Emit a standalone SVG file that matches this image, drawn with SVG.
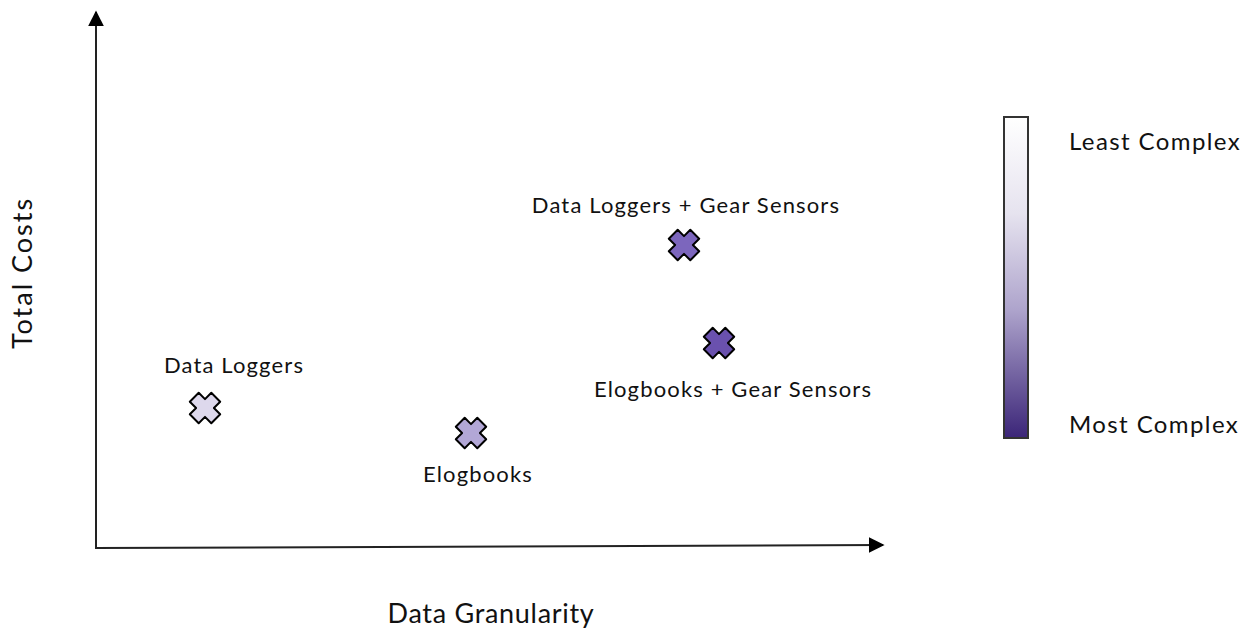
<svg xmlns="http://www.w3.org/2000/svg" width="1249" height="628" viewBox="0 0 1249 628">
  <defs>
    <linearGradient id="legendGrad" x1="0" y1="0" x2="0" y2="1">
      <stop offset="0" stop-color="#ffffff"/>
      <stop offset="0.3" stop-color="#e6e3ef"/>
      <stop offset="0.6" stop-color="#aea4cc"/>
      <stop offset="1" stop-color="#3b2578"/>
    </linearGradient>
    <marker id="arrow" viewBox="0 0 10 10" refX="9" refY="5" markerWidth="16" markerHeight="16" markerUnits="userSpaceOnUse" orient="auto">
      <path d="M0,0 L10,5 L0,10 Z" fill="#000"/>
    </marker>
    <path id="cross" d="M-15.2,-6.3 L-6.3,-15.2 L0,-8.9 L6.3,-15.2 L15.2,-6.3 L8.9,0 L15.2,6.3 L6.3,15.2 L0,8.9 L-6.3,15.2 L-15.2,6.3 L-8.9,0 Z" stroke="#000" stroke-width="2" stroke-linejoin="round"/>
  </defs>
  <style>
    text { font-family: Lato, "Open Sans", sans-serif; fill: #111; }
    .lbl { font-size: 22px; letter-spacing: 1.15px; }
    .axis { font-size: 27px; letter-spacing: 0.7px; }
    .axis-y { font-size: 27px; letter-spacing: 2px; }
    .leg { font-size: 24px; letter-spacing: 1.4px; }
    .ax { stroke: #222; stroke-width: 2; fill: none; }
  </style>
  <rect width="1249" height="628" fill="#fff"/>
  <g id="connectors">
    <line class="ax" x1="96" y1="549" x2="96" y2="12" marker-end="url(#arrow)"/>
    <line class="ax" x1="95" y1="548" x2="883" y2="545" marker-end="url(#arrow)"/>
  </g>
  <g id="axis-labels">
    <text class="axis-y" transform="translate(32,273) rotate(-90)" text-anchor="middle">Total Costs</text>
    <text class="axis" x="491" y="623" text-anchor="middle">Data Granularity</text>
  </g>
  <g id="node-data-loggers">
    <use href="#cross" x="205" y="408" fill="#ddd8ec"/>
    <text class="lbl" x="234" y="373" text-anchor="middle">Data Loggers</text>
  </g>
  <g id="node-elogbooks">
    <use href="#cross" x="471" y="433" fill="#b2a7d6"/>
    <text class="lbl" x="478" y="482" text-anchor="middle">Elogbooks</text>
  </g>
  <g id="node-dl-gear">
    <use href="#cross" x="684" y="245" fill="#7c66bd"/>
    <text class="lbl" x="686" y="213" text-anchor="middle">Data Loggers + Gear Sensors</text>
  </g>
  <g id="node-elog-gear">
    <use href="#cross" x="719" y="343" fill="#6a51ae"/>
    <text class="lbl" x="733" y="397" text-anchor="middle">Elogbooks + Gear Sensors</text>
  </g>
  <g id="legend">
    <rect x="1004" y="117" width="24" height="321" fill="url(#legendGrad)" stroke="#333" stroke-width="2"/>
    <text class="leg" x="1069" y="150">Least Complex</text>
    <text class="leg" x="1069" y="433">Most Complex</text>
  </g>
</svg>
